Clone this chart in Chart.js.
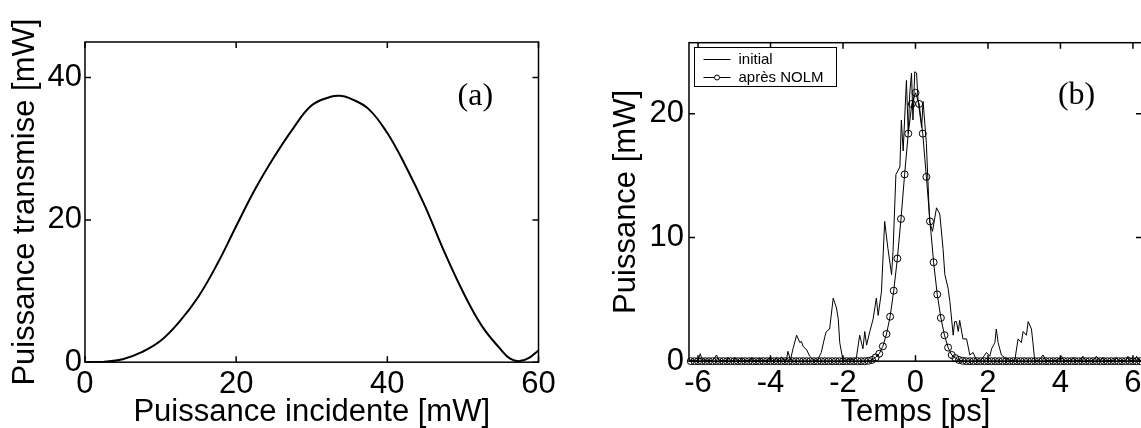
<!DOCTYPE html>
<html>
<head>
<meta charset="utf-8">
<script src="https://cdn.jsdelivr.net/npm/chart.js@4.4.1/dist/chart.umd.min.js"></script>
<style>
  html, body { margin: 0; padding: 0; background: #fff; overflow: hidden; width: 1141px; height: 428px; }
  #wrap { position: relative; width: 1141px; height: 428px; }
  canvas { position: absolute; top: 0; }
  #chartA { left: 0; }
  #chartB { left: 575px; }
</style>
</head>
<body>
<div id="wrap">
  <canvas id="chartA" width="570" height="428"></canvas>
  <canvas id="chartB" width="580" height="428"></canvas>
</div>
<script>
// (a) transfer curve of the NOLM
const incidentPower = [0, 2.5, 5, 7.5, 10, 12.5, 15, 17.5, 20, 22.5, 25, 27.5, 30, 32.5, 33.75, 35, 37.5, 40, 42.5, 45, 47.5, 50, 52.5, 55, 56.25, 57.5, 58.75, 60];
const transmitPower = [0, 0.05, 0.4, 1.4, 3.0, 5.7, 9.2, 13.8, 19.1, 24.3, 28.8, 32.8, 36.1, 37.3, 37.45, 37.1, 35.6, 32.2, 27.4, 21.9, 15.6, 9.9, 5.1, 1.8, 0.5, 0.15, 0.6, 1.65];
const ticksAx = [0, 20, 40, 60];
const ticksAy = [0, 20, 40];

// (b) pulse before / after the NOLM, [time ps, power mW]
const initialTrace = [
  [-6.25, 0.1], [-6.0, 0.05], [-5.94, 0.6], [-5.88, 0.1], [-5.6, 0.05], [-5.49, 0.5], [-5.42, 0.05], [-5.22, 0.05], [-5.17, 0.3], [-5.12, 0.05],
  [-5.02, 0.05], [-4.98, 0.3], [-4.93, 0.05], [-4.84, 0.05], [-4.8, 0.25], [-4.75, 0.05], [-4.56, 0.05], [-4.52, 0.3], [-4.47, 0.05], [-4.34, 0.05],
  [-4.3, 0.25], [-4.25, 0.05], [-4.06, 0.05], [-4.02, 0.3], [-3.97, 0.05], [-3.88, 0.05], [-3.84, 0.3], [-3.79, 0.05], [-3.74, 0.05], [-3.7, 0.35],
  [-3.62, 0.05], [-3.56, 0.1], [-3.52, 0.8], [-3.45, 0.1], [-3.38, 1.0], [-3.28, 2.1], [-3.19, 1.5], [-3.15, 1.6], [-3.1, 1.2], [-3.0, 0.9],
  [-2.92, 0.4], [-2.8, 0.05], [-2.7, 0.1], [-2.6, 0.7], [-2.5, 2.0], [-2.46, 2.4], [-2.37, 2.6], [-2.27, 5.1], [-2.18, 4.3], [-2.13, 3.4],
  [-2.09, 1.5], [-2.0, 0.05], [-1.9, 0.1], [-1.81, 0.2], [-1.72, 0.1], [-1.63, 0.3], [-1.54, 2.1], [-1.45, 1.0], [-1.4, 2.4], [-1.35, 1.3],
  [-1.26, 2.4], [-1.17, 3.4], [-1.08, 5.1], [-1.03, 3.7], [-0.94, 5.6], [-0.85, 11.3], [-0.76, 9.1], [-0.66, 7.0], [-0.62, 8.9], [-0.54, 15.1],
  [-0.43, 15.7], [-0.39, 19.5], [-0.34, 17.0], [-0.25, 22.7], [-0.2, 18.4], [-0.16, 21.6], [-0.11, 23.3], [-0.07, 19.5], [-0.02, 23.4], [0.03, 23.3],
  [0.07, 21.1], [0.12, 20.0], [0.17, 18.9], [0.21, 21.0], [0.3, 17.6], [0.39, 11.3], [0.47, 10.5], [0.58, 12.4], [0.67, 11.9], [0.76, 9.1],
  [0.81, 7.0], [0.9, 5.9], [0.95, 4.8], [1.04, 2.1], [1.08, 3.2], [1.13, 3.2], [1.18, 2.4], [1.22, 3.3], [1.31, 1.8], [1.41, 1.8],
  [1.5, 0.5], [1.59, 0.7], [1.68, 0.1], [1.8, 0.05], [1.96, 0.7], [2.05, 0.4], [2.1, 1.0], [2.19, 1.5], [2.23, 2.6], [2.28, 1.5],
  [2.37, 0.5], [2.46, 0.3], [2.6, 0.05], [2.74, 0.05], [2.83, 1.8], [2.92, 1.5], [2.97, 2.4], [3.06, 2.1], [3.11, 3.2], [3.2, 2.6],
  [3.24, 1.5], [3.29, 0.05], [3.4, 0.05], [3.52, 0.5], [3.6, 0.05], [3.9, 0.05], [4.03, 0.4], [4.1, 0.05], [4.28, 0.05], [4.35, 0.3],
  [4.42, 0.05], [4.55, 0.05], [4.62, 0.4], [4.7, 0.05], [4.9, 0.05], [4.99, 0.4], [5.08, 0.05], [5.1, 0.05], [5.17, 0.3], [5.25, 0.05],
  [5.45, 0.05], [5.54, 0.3], [5.62, 0.05], [5.8, 0.05], [5.86, 0.4], [5.93, 0.05], [6.05, 0.05], [6.1, 0.4], [6.17, 0.05], [6.25, 0.1]
];
const nolmTime = [
  -6.2, -6.1, -6.0, -5.9, -5.8, -5.7, -5.6, -5.5, -5.4, -5.3,
  -5.2, -5.1, -5.0, -4.9, -4.8, -4.7, -4.6, -4.5, -4.4, -4.3,
  -4.2, -4.1, -4.0, -3.9, -3.8, -3.7, -3.6, -3.5, -3.4, -3.3,
  -3.2, -3.1, -3.0, -2.9, -2.8, -2.7, -2.6, -2.5, -2.4, -2.3,
  -2.2, -2.1, -2.0, -1.9, -1.8, -1.7, -1.6, -1.5, -1.4, -1.3,
  -1.2, -1.1, -1.0, -0.9, -0.8, -0.7, -0.6, -0.5, -0.4, -0.3,
  -0.2, -0.1, 0.0, 0.1, 0.2, 0.3, 0.4, 0.5, 0.6, 0.7,
  0.8, 0.9, 1.0, 1.1, 1.2, 1.3, 1.4, 1.5, 1.6, 1.7,
  1.8, 1.9, 2.0, 2.1, 2.2, 2.3, 2.4, 2.5, 2.6, 2.7,
  2.8, 2.9, 3.0, 3.1, 3.2, 3.3, 3.4, 3.5, 3.6, 3.7,
  3.8, 3.9, 4.0, 4.1, 4.2, 4.3, 4.4, 4.5, 4.6, 4.7,
  4.8, 4.9, 5.0, 5.1, 5.2, 5.3, 5.4, 5.5, 5.6, 5.7,
  5.8, 5.9, 6.0, 6.1, 6.2
];
const nolmPower = [
  0, 0, 0, 0, 0, 0, 0, 0, 0, 0,
  0, 0, 0, 0, 0, 0, 0, 0, 0, 0,
  0, 0, 0, 0, 0, 0, 0, 0, 0, 0,
  0, 0, 0, 0, 0, 0, 0, 0, 0, 0,
  0, 0, 0, 0, 0, 0, 0, 0, 0, 0.03,
  0.1, 0.3, 0.6, 1.2, 2.2, 3.6, 5.7, 8.3, 11.5, 15.1,
  18.4, 20.8, 21.7, 20.8, 18.4, 14.9, 11.3, 8.0, 5.4, 3.5,
  2.1, 1.1, 0.5, 0.25, 0.1, 0.03, 0, 0, 0, 0,
  0, 0, 0, 0, 0, 0, 0, 0, 0, 0,
  0, 0, 0, 0, 0, 0, 0, 0, 0, 0,
  0, 0, 0, 0, 0, 0, 0, 0, 0, 0,
  0, 0, 0, 0, 0, 0, 0, 0, 0, 0,
  0, 0, 0, 0, 0
];
const ticksBx = [-6, -4, -2, 0, 2, 4, 6];
const ticksBy = [0, 10, 20];

const SANS = '"Liberation Sans", Arial, Helvetica, sans-serif';
const tickFont = { family: SANS, size: 31, lineHeight: 0.9 };
// small line height on the x title only keeps the axis band short; padding puts the text back
const xTitleFont = { family: SANS, size: 31, lineHeight: 0.22 };
const yTitleFont = { family: SANS, size: 31, lineHeight: 1 };

// box all round, with short ticks pointing inward on the four sides
const frame = {
  id: 'frame',
  afterDraw(chart) {
    const { ctx, chartArea: a, scales: { x, y } } = chart;
    const len = 6;
    ctx.save();
    ctx.strokeStyle = '#000';
    ctx.lineWidth = 1.5;
    ctx.strokeRect(a.left, a.top, a.right - a.left, a.bottom - a.top);
    ctx.beginPath();
    x.ticks.forEach((t) => {
      const px = x.getPixelForValue(t.value);
      ctx.moveTo(px, a.bottom); ctx.lineTo(px, a.bottom - len);
      ctx.moveTo(px, a.top); ctx.lineTo(px, a.top + len);
    });
    y.ticks.forEach((t) => {
      const py = y.getPixelForValue(t.value);
      ctx.moveTo(a.left, py); ctx.lineTo(a.left + len, py);
      ctx.moveTo(a.right, py); ctx.lineTo(a.right - len, py);
    });
    ctx.stroke();
    ctx.restore();
  },
};

const panelTag = {
  id: 'panelTag',
  afterDraw(chart, args, o) {
    if (!o.text) return;
    const { ctx, scales: { x, y } } = chart;
    ctx.save();
    ctx.fillStyle = '#000';
    ctx.font = '32px "Liberation Serif", "Times New Roman", serif';
    ctx.textAlign = 'left';
    ctx.textBaseline = 'middle';
    ctx.fillText(o.text, x.getPixelForValue(o.x), y.getPixelForValue(o.y));
    ctx.restore();
  },
};

const boxLegend = {
  id: 'boxLegend',
  afterDraw(chart, args, o) {
    if (!o.show) return;
    const { ctx, chartArea: a } = chart;
    const x0 = Math.round(a.left + 5) + 0.5, y0 = Math.round(a.top + 4) + 0.5;
    ctx.save();
    ctx.fillStyle = '#fff';
    ctx.fillRect(x0, y0, 142, 39);
    ctx.strokeStyle = '#000';
    ctx.lineWidth = 1;
    ctx.strokeRect(x0, y0, 142, 39);
    ctx.font = '15px ' + SANS;
    ctx.textBaseline = 'middle';
    chart.data.datasets.forEach((ds, i) => {
      const yy = Math.round(y0 + 11.6 + i * 17.4) + 0.5;
      ctx.beginPath();
      ctx.moveTo(x0 + 9, yy); ctx.lineTo(x0 + 36, yy);
      ctx.stroke();
      if (ds.pointRadius) {
        ctx.beginPath();
        ctx.arc(x0 + 22.5, yy, 2.5, 0, 2 * Math.PI);
        ctx.fillStyle = '#fff';
        ctx.fill();
        ctx.stroke();
      }
      ctx.fillStyle = '#000';
      ctx.fillText(ds.label, x0 + 44, yy);
    });
    ctx.restore();
  },
};

const axisBase = (min, max, tickList, title, isX, tickPad, titlePad) => ({
  type: 'linear',
  min, max,
  afterBuildTicks: (ax) => { ax.ticks = tickList.map((v) => ({ value: v })); },
  grid: { display: false, drawTicks: false },
  border: { display: false },
  ticks: { font: tickFont, color: '#000', padding: tickPad, maxRotation: 0, autoSkip: false },
  title: { display: true, text: title, color: '#000', font: isX ? xTitleFont : yTitleFont, padding: titlePad },
});

new Chart(document.getElementById('chartA'), {
  type: 'line',
  data: {
    datasets: [{
      label: 'transmise',
      data: incidentPower.map((p, i) => ({ x: p, y: transmitPower[i] })),
      borderColor: '#000',
      borderWidth: 2,
      pointRadius: 0,
      tension: 0.4,
      fill: false,
    }],
  },
  options: {
    responsive: false,
    animation: false,
    layout: { padding: { left: 9, right: 31.5, top: 42, bottom: 0 } },
    plugins: {
      legend: { display: false },
      tooltip: { enabled: false },
      panelTag: { text: '(a)', x: 49.3, y: 37.3 },
    },
    scales: {
      x: axisBase(0, 60, ticksAx, 'Puissance incidente [mW]', true, 8, { top: 3, bottom: 12.1 }),
      y: axisBase(0, 45, ticksAy, 'Puissance transmise [mW]', false, 3, { top: 0.5, bottom: 4 }),
    },
  },
  plugins: [frame, panelTag],
});

new Chart(document.getElementById('chartB'), {
  type: 'line',
  data: {
    datasets: [
      {
        label: 'initial',
        data: initialTrace.map(([t, p]) => ({ x: t, y: p })),
        borderColor: '#000',
        borderWidth: 1,
        pointRadius: 0,
        tension: 0,
        fill: false,
      },
      {
        label: 'après NOLM',
        data: nolmTime.map((t, i) => ({ x: t, y: nolmPower[i] })),
        borderColor: '#000',
        borderWidth: 1,
        pointRadius: 3.5,
        pointStyle: 'circle',
        pointBorderColor: '#000',
        pointBackgroundColor: 'rgba(0,0,0,0)',
        pointBorderWidth: 1,
        tension: 0,
        fill: false,
        clip: 8,
      },
    ],
  },
  options: {
    responsive: false,
    animation: false,
    layout: { padding: { left: 20, right: 13, top: 42.7, bottom: 0 } },
    plugins: {
      legend: { display: false },
      tooltip: { enabled: false },
      boxLegend: { show: true },
      panelTag: { text: '(b)', x: 3.93, y: 21.5 },
    },
    scales: {
      x: axisBase(-6.25, 6.25, ticksBx, 'Temps [ps]', true, 8.5, { top: 3, bottom: 12.1 }),
      y: axisBase(0, 25.75, ticksBy, 'Puissance [mW]', false, 5, { top: 15.5, bottom: 3 }),
    },
  },
  plugins: [frame, panelTag, boxLegend],
});
</script>
</body>
</html>
